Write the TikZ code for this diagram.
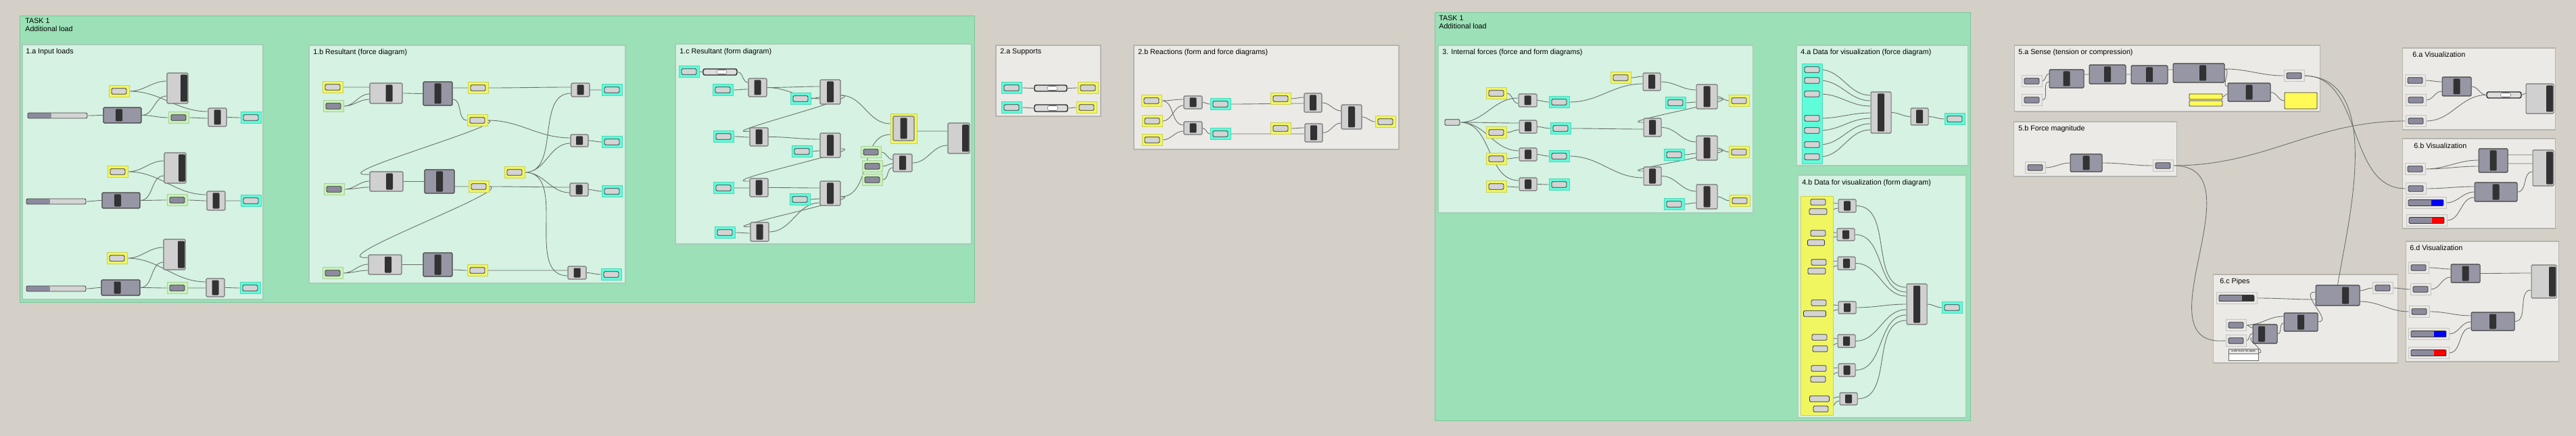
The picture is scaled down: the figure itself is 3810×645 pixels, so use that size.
\documentclass[tikz,border=0pt]{standalone}
\usepackage{fontspec}
\setmainfont{Liberation Sans}
\usepackage{xcolor}
\usepackage{tikz}
\usetikzlibrary{positioning}
\usetikzlibrary{fit}
\definecolor{canvas}{RGB}{212,208,200}
\definecolor{grnB}{RGB}{155,224,182}
\definecolor{grnBD}{RGB}{125,196,155}
\definecolor{grnS}{RGB}{213,242,226}
\definecolor{grnSD}{RGB}{168,204,184}
\definecolor{gryS}{RGB}{236,234,230}
\definecolor{gryD}{RGB}{182,180,174}
\definecolor{gryP}{RGB}{232,231,228}
\definecolor{yelG}{RGB}{240,246,96}
\definecolor{cyaG}{RGB}{95,252,218}
\definecolor{lgrG}{RGB}{200,242,184}
\definecolor{parL}{RGB}{212,212,212}
\definecolor{parD}{RGB}{140,139,158}
\definecolor{cmpL}{RGB}{208,208,208}
\definecolor{cmpD}{RGB}{151,150,165}
\definecolor{barC}{RGB}{50,50,50}
\definecolor{wireC}{RGB}{105,110,105}
\definecolor{ypnl}{RGB}{255,250,85}
\pgfdeclarelayer{grp}
\pgfdeclarelayer{wires}
\pgfsetlayers{grp,wires,main}
\tikzset{
    bar shift/.store in=\ghbs, bar shift=0cm,
    grpbig/.style = {draw=grnBD, fill=grnB, line width=0.5pt},
    grpsub/.style = {draw=grnSD, fill=grnS, line width=0.6pt},
    grpgry/.style = {draw=gryD, fill=gryS, line width=0.6pt},
    ttl/.style = {anchor=north west, inner sep=0pt, align=left, font=\fontsize{6.1}{6.9}\selectfont},
    pbox/.style 2 args = {rectangle, fill=#1, draw=#1!85!black, line width=0.4pt, inner sep=0pt,
        minimum width=0.6cm, minimum height=0.34cm,
        path picture={\draw[black!80, line width=0.5pt, rounded corners=0.8pt, fill=#2]
            ([shift={(-0.22cm,-0.085cm)}]path picture bounding box.center) rectangle
            ([shift={(0.22cm,0.085cm)}]path picture bounding box.center);}},
    ypar/.style = {pbox={yelG}{parL}},
    cpar/.style = {pbox={cyaG}{parL}},
    gpar/.style = {pbox={lgrG}{parD}},
    wpar/.style = {pbox={gryP}{parD}},
    par/.style = {rectangle, rounded corners=0.8pt, fill=parL, draw=black!80, line width=0.5pt,
        inner sep=0pt, minimum width=0.44cm, minimum height=0.17cm},
    comp/.style = {rectangle, rounded corners=0.8pt, fill=cmpL, draw=black!55, line width=0.6pt, inner sep=0pt,
        path picture={\fill[barC, rounded corners=0.6pt]
            ([shift={(\ghbs-0.1cm,-0.05cm)}]path picture bounding box.north) rectangle
            ([shift={(\ghbs+0.1cm,0.05cm)}]path picture bounding box.south);}},
    dcomp/.style = {comp, fill=cmpD, draw=black!75},
    outc/.style = {rectangle, rounded corners=0.8pt, fill=cmpL, draw=black!55, line width=0.6pt, inner sep=0pt,
        path picture={\fill[barC, rounded corners=0.6pt]
            ([shift={(-0.22cm,-0.05cm)}]path picture bounding box.north east) rectangle
            ([shift={(-0.02cm,0.05cm)}]path picture bounding box.south east);}},
    slider/.style = {rectangle, rounded corners=1.2pt, fill=parL, draw=black!75, line width=0.5pt, inner sep=0pt,
        path picture={\fill[parD] (path picture bounding box.south west) rectangle
            ([xshift=0.7cm]path picture bounding box.north west);}},
    valbar/.style = {rectangle, rounded corners=1.5pt, fill=parL!80, draw=black!85, line width=0.8pt, inner sep=0pt,
        path picture={\draw[fill=white, draw=black!60, line width=0.3pt]
            ([shift={(-0.1cm,-0.03cm)}]path picture bounding box.north) rectangle
            ([shift={(0.2cm,0.03cm)}]path picture bounding box.south);}},
    swatch/.style = {rectangle, fill=gryP, draw=gryP!85!black, line width=0.4pt, inner sep=0pt,
        minimum width=1.2cm, minimum height=0.34cm,
        path picture={\fill[parD] ([shift={(-0.52cm,-0.09cm)}]path picture bounding box.center) rectangle
            ([shift={(0.52cm,0.09cm)}]path picture bounding box.center);
            \fill[#1] ([shift={(0.16cm,-0.09cm)}]path picture bounding box.center) rectangle
            ([shift={(0.52cm,0.09cm)}]path picture bounding box.center);
            \draw[black!80, line width=0.5pt, rounded corners=0.8pt]
            ([shift={(-0.52cm,-0.09cm)}]path picture bounding box.center) rectangle
            ([shift={(0.52cm,0.09cm)}]path picture bounding box.center);}},
    ybar/.style = {rectangle, rounded corners=0.6pt, fill=ypnl, draw=black!80, line width=0.5pt, inner sep=0pt},
    pnl/.style = {rectangle, fill=white, draw=black!60, line width=0.4pt, inner sep=0pt,
        path picture={\fill[gryP] (path picture bounding box.north west) rectangle
            ([yshift=-0.14cm]path picture bounding box.north east);
            \draw[black!60, line width=0.3pt] ([yshift=-0.14cm]path picture bounding box.north west) --
            ([yshift=-0.14cm]path picture bounding box.north east);}},
    wire/.style = {draw=wireC, line width=0.5pt},
}
\begin{document}
\begin{tikzpicture}[x=0.02cm, y=-0.02cm]
\useasboundingbox (0,0) rectangle (3810,645);
\begin{pgfonlayer}{grp}
\fill[canvas] (0,0) rectangle (3810,645);
\draw[grpbig] (29,23) rectangle (1441,447);
\draw[grpsub] (33,66) rectangle (389,443);
\draw[grpsub] (457,67) rectangle (925,419);
\draw[grpsub] (999,65) rectangle (1437,361);
\draw[grpgry] (1473,67) rectangle (1628,172);
\draw[grpgry] (1677,67) rectangle (2069,221);
\draw[grpbig] (2122,18) rectangle (2914,622);
\draw[grpsub] (2127,67) rectangle (2592,315);
\draw[grpsub] (2657,67) rectangle (2910,245);
\draw[grpsub] (2659,259) rectangle (2907,618);
\draw[grpgry] (2979,67) rectangle (3431,165);
\draw[grpgry] (2978,180) rectangle (3219,261);
\draw[grpgry] (3553,71) rectangle (3779,192);
\draw[grpgry] (3553,205) rectangle (3779,338);
\draw[grpgry] (3273,406) rectangle (3546,537);
\draw[grpgry] (3558,357) rectangle (3784,535);
\end{pgfonlayer}
%
\node[ttl] at (37,27) (t1) {TASK 1\\Additional load};
\node[ttl] at (38,71) (t1a) {1.a Input loads};
\node[ttl] at (463,72) (t1b) {1.b Resultant (force diagram)};
\node[ttl] at (1005,71) (t1c) {1.c Resultant (form diagram)};
\node[ttl] at (1479,72) (t2a) {2.a Supports};
\node[ttl] at (1683,72) (t2b) {2.b Reactions (form and force diagrams)};
\node[ttl] at (2128,23) (t2) {TASK 1\\Additional load};
\node[ttl] at (2133,72) (t3) {3. Internal forces (force and form diagrams)};
\node[ttl] at (2663,72) (t4a) {4.a Data for visualization (force diagram)};
\node[ttl] at (2665,265) (t4b) {4.b Data for visualization (form diagram)};
\node[ttl] at (2985,72) (t5a) {5.a Sense (tension or compression)};
\node[ttl] at (2985,185) (t5b) {5.b Force magnitude};
\node[ttl] at (3568,76) (t6a) {6.a Visualization};
\node[ttl] at (3570,211) (t6b) {6.b Visualization};
\node[ttl] at (3283,411) (t6c) {6.c Pipes};
\node[ttl] at (3564,362) (t6d) {6.d Visualization};
%
\node[slider, fit={(41,167)(129,175)}] (sl1) {};
\node[dcomp, bar shift=-0.1cm, fit={(153,159)(209,182)}] (ca1) {};
\node[ypar] at (176,135) (ya1) {};
\node[outc, fit={(247,108)(278,153)}] (ba1) {};
\node[gpar] at (264,174) (ga1) {};
\node[comp, fit={(308,160)(335,187)}] (sa1) {};
\node[cpar] at (371,174) (ka1) {};
\node[slider, fit={(39,294)(127,302)}] (sl2) {};
\node[dcomp, bar shift=-0.1cm, fit={(151,285)(207,308)}] (ca2) {};
\node[ypar] at (174,254) (ya2) {};
\node[outc, fit={(243,226)(275,271)}] (ba2) {};
\node[gpar] at (262,296) (ga2) {};
\node[comp, fit={(306,283)(333,311)}] (sa2) {};
\node[cpar] at (371,297) (ka2) {};
\node[slider, fit={(39,423)(127,431)}] (sl3) {};
\node[dcomp, bar shift=-0.1cm, fit={(150,414)(207,437)}] (ca3) {};
\node[ypar] at (173,382) (ya3) {};
\node[outc, fit={(242,354)(274,399)}] (ba3) {};
\node[gpar] at (262,426) (ga3) {};
\node[comp, fit={(305,412)(332,439)}] (sa3) {};
\node[cpar] at (370,426) (ka3) {};
%
\node[ypar] at (492,129) (yb1) {};
\node[gpar] at (493,157) (gb1) {};
\node[comp, bar shift=0.09cm, fit={(547,123)(595,153)}] (cb1) {};
\node[dcomp, fit={(626,121)(669,156)}] (db1) {};
\node[ypar] at (707,130) (yb2) {};
\node[ypar] at (706,178) (yb3) {};
\node[comp, fit={(845,123)(872,143)}] (sb1) {};
\node[cpar] at (905,133) (kb1) {};
\node[comp, fit={(844,199)(870,217)}] (sb2) {};
\node[cpar] at (905,210) (kb2) {};
\node[ypar] at (761,255) (yb4) {};
\node[gpar] at (494,280) (gb2) {};
\node[comp, bar shift=0.09cm, fit={(547,254)(596,283)}] (cb2) {};
\node[dcomp, fit={(628,251)(672,286)}] (db2) {};
\node[ypar] at (708,276) (yb5) {};
\node[comp, fit={(843,271)(870,290)}] (sb3) {};
\node[cpar] at (905,283) (kb3) {};
\node[gpar] at (492,404) (gb3) {};
\node[comp, bar shift=0.09cm, fit={(545,377)(594,406)}] (cb3) {};
\node[dcomp, fit={(626,374)(669,409)}] (db3) {};
\node[ypar] at (706,400) (yb6) {};
\node[comp, fit={(840,394)(867,413)}] (sb4) {};
\node[cpar] at (904,406) (kb4) {};
%
\node[cpar] at (1019,106) (pc1) {};
\node[valbar, fit={(1040,102)(1090,111)}] (vc1) {};
\node[cpar] at (1069,133) (pc2) {};
\node[comp, fit={(1107,116)(1134,143)}] (ac1) {};
\node[cpar] at (1184,146) (pc3) {};
\node[comp, fit={(1213,118)(1243,154)}] (bc1) {};
\node[cpar] at (1070,202) (pc4) {};
\node[comp, fit={(1109,189)(1136,216)}] (ac2) {};
\node[cpar] at (1186,224) (pc5) {};
\node[comp, fit={(1213,197)(1243,233)}] (bc2) {};
\node[cpar] at (1070,278) (pc6) {};
\node[comp, fit={(1109,264)(1136,291)}] (ac3) {};
\node[cpar] at (1183,295) (pc7) {};
\node[comp, fit={(1213,268)(1243,304)}] (bc3) {};
\node[cpar] at (1072,344) (pc8) {};
\node[comp, fit={(1110,329)(1137,357)}] (ac4) {};
\node[fill=yelG, draw=yelG!85!black, inner sep=0pt, fit={(1317,168)(1356,212)}] (yc) {};
\node[comp, fit={(1321,172)(1352,208)}] (ec1) {};
\node[gpar] at (1288,225) (qc1) {};
\node[gpar] at (1290,246) (qc2) {};
\node[gpar] at (1290,266) (qc3) {};
\node[comp, fit={(1321,228)(1349,254)}] (ec2) {};
\node[outc, fit={(1402,182)(1434,227)}] (fc) {};
%
\node[cpar] at (1496,130) (ra1) {};
\node[valbar, fit={(1530,126)(1578,135)}] (va1) {};
\node[ypar] at (1609,130) (ra2) {};
\node[cpar] at (1496,159) (ra3) {};
\node[valbar, fit={(1530,155)(1579,165)}] (va2) {};
\node[ypar] at (1607,159) (ra4) {};
%
\node[ypar] at (1703,149) (tb1) {};
\node[ypar] at (1704,179) (tb2) {};
\node[ypar] at (1704,207) (tb3) {};
\node[comp, fit={(1751,142)(1778,161)}] (ub1) {};
\node[comp, fit={(1751,180)(1778,199)}] (ub2) {};
\node[cpar] at (1805,154) (wb1) {};
\node[cpar] at (1805,198) (wb2) {};
\node[ypar] at (1894,146) (tb4) {};
\node[ypar] at (1894,190) (tb5) {};
\node[comp, fit={(1929,138)(1955,166)}] (ub3) {};
\node[comp, fit={(1930,183)(1956,210)}] (ub4) {};
\node[comp, fit={(1984,155)(2014,191)}] (ub5) {};
\node[ypar] at (2049,180) (tb6) {};
%
\node[par] at (2148,181) (p30) {};
\node[ypar] at (2213,138) (y3a) {};
\node[ypar] at (2213,196) (y3b) {};
\node[ypar] at (2213,235) (y3c) {};
\node[ypar] at (2213,276) (y3d) {};
\node[comp, fit={(2246,139)(2273,158)}] (m3a) {};
\node[comp, fit={(2247,178)(2273,197)}] (m3b) {};
\node[comp, fit={(2247,219)(2273,238)}] (m3c) {};
\node[comp, fit={(2247,263)(2273,282)}] (m3d) {};
\node[cpar] at (2306,151) (k3a) {};
\node[cpar] at (2308,190) (k3b) {};
\node[cpar] at (2306,231) (k3c) {};
\node[cpar] at (2306,273) (k3d) {};
\node[ypar] at (2397,115) (y3e) {};
\node[comp, fit={(2430,108)(2456,134)}] (n3a) {};
\node[comp, fit={(2431,175)(2457,202)}] (n3b) {};
\node[comp, fit={(2431,247)(2457,274)}] (n3c) {};
\node[cpar] at (2478,152) (l3a) {};
\node[cpar] at (2476,229) (l3b) {};
\node[cpar] at (2476,302) (l3c) {};
\node[comp, fit={(2509,125)(2540,161)}] (o3a) {};
\node[comp, fit={(2509,201)(2540,237)}] (o3b) {};
\node[comp, fit={(2509,273)(2540,309)}] (o3c) {};
\node[ypar] at (2572,149) (z3a) {};
\node[ypar] at (2572,225) (z3b) {};
\node[ypar] at (2573,297) (z3c) {};
%
\node[fill=cyaG, draw=cyaG!85!black, inner sep=0pt, fit={(2665,94)(2695,242)}] (cb4) {};
\node[par] at (2680,103) (a41) {};
\node[par] at (2680,119) (a42) {};
\node[par] at (2680,139) (a43) {};
\node[par] at (2680,175) (a44) {};
\node[par] at (2680,193) (a45) {};
\node[par] at (2680,214) (a46) {};
\node[par] at (2680,232) (a47) {};
\node[comp, fit={(2767,136)(2797,197)}] (h4) {};
\node[comp, fit={(2826,160)(2852,185)}] (i4) {};
\node[cpar] at (2891,176) (j4) {};
%
\node[fill=yelG, draw=yelG!85!black, inner sep=0pt, fit={(2663,290)(2711,614)}] (yb40) {};
\node[par] at (2689,299) (q1a) {};
\node[par, minimum width=0.52cm] at (2689,313) (q1b) {};
\node[par] at (2689,345) (q2a) {};
\node[par, minimum width=0.5cm] at (2686,359) (q2b) {};
\node[par] at (2690,388) (q3a) {};
\node[par, minimum width=0.52cm] at (2687,401) (q3b) {};
\node[par] at (2690,448) (q4a) {};
\node[par, minimum width=0.66cm] at (2684,464) (q4b) {};
\node[par] at (2691,499) (q5a) {};
\node[par] at (2692,516) (q5b) {};
\node[par] at (2690,545) (q6a) {};
\node[par] at (2689,561) (q6b) {};
\node[par, minimum width=0.58cm] at (2691,590) (q7a) {};
\node[par] at (2693,605) (q7b) {};
\node[comp, fit={(2719,295)(2745,314)}] (c41) {};
\node[comp, fit={(2717,338)(2743,356)}] (c42) {};
\node[comp, fit={(2718,380)(2744,399)}] (c43) {};
\node[comp, fit={(2719,446)(2745,464)}] (c44) {};
\node[comp, fit={(2718,495)(2744,514)}] (c45) {};
\node[comp, fit={(2719,538)(2744,557)}] (c46) {};
\node[comp, fit={(2721,581)(2747,599)}] (c47) {};
\node[comp, fit={(2820,420)(2850,480)}] (g4) {};
\node[cpar] at (2887,455) (q4) {};
%
\node[wpar] at (3005,120) (w5a) {};
\node[wpar] at (3005,148) (w5b) {};
\node[dcomp, fit={(3031,103)(3082,130)}] (d5a) {};
\node[dcomp, fit={(3090,96)(3144,124)}] (d5b) {};
\node[dcomp, fit={(3152,97)(3206,124)}] (d5c) {};
\node[dcomp, bar shift=0.12cm, fit={(3214,94)(3290,122)}] (d5d) {};
\node[dcomp, fit={(3295,123)(3358,150)}] (d5e) {};
\node[ybar, fit={(3238,139)(3287,147)}] (yb5a) {};
\node[ybar, fit={(3238,149)(3287,157)}] (yb5b) {};
\node[ybar, fit={(3379,137)(3427,161)}] (yp5) {};
\node[wpar] at (3393,112) (w5c) {};
\node[wpar] at (3010,248) (w5d) {};
\node[dcomp, fit={(3062,228)(3109,254)}] (d5f) {};
\node[wpar] at (3199,245) (w5e) {};
%
\node[wpar] at (3572,119) (w6a) {};
\node[wpar] at (3573,148) (w6b) {};
\node[wpar] at (3573,179) (w6c) {};
\node[dcomp, fit={(3612,114)(3655,142)}] (d6a) {};
\node[valbar, fit={(3678,136)(3729,145)}] (v6a) {};
\node[outc, fit={(3736,124)(3777,168)}] (o6a) {};
\node[wpar] at (3572,250) (w6d) {};
\node[wpar] at (3573,279) (w6e) {};
\node[swatch=blue] at (3588,300) (s6a) {};
\node[swatch=red] at (3589,326) (s6b) {};
\node[dcomp, fit={(3666,220)(3709,255)}] (d6b) {};
\node[dcomp, fit={(3660,270)(3723,298)}] (d6c) {};
\node[outc, fit={(3746,222)(3777,275)}] (o6b) {};
%
\node[swatch=barC] at (3308,441) (s6c) {};
\node[wpar] at (3307,481) (w6f) {};
\node[wpar] at (3307,504) (w6g) {};
\node[pnl, fit={(3296,516)(3340,533)}] (pn6) {};
\node[inner sep=0pt, font=\fontsize{2.2}{2.6}\selectfont] at (3318,519.5) (pn6t) {scale factor for pipes};
\node[dcomp, bar shift=-0.1cm, fit={(3332,480)(3368,508)}] (d6d) {};
\node[dcomp, fit={(3378,463)(3428,490)}] (d6e) {};
\node[dcomp, bar shift=0.23cm, fit={(3425,422)(3490,452)}] (d6f) {};
\node[wpar] at (3524,426) (w6h) {};
\node[wpar] at (3577,396) (w6k) {};
\node[wpar] at (3580,428) (w6j) {};
\node[wpar] at (3578,461) (w6i) {};
\node[swatch=blue] at (3592,494) (s6d) {};
\node[swatch=red] at (3592,522) (s6e) {};
\node[dcomp, fit={(3625,391)(3668,418)}] (d6g) {};
\node[dcomp, fit={(3655,462)(3719,489)}] (d6h) {};
\node[outc, fit={(3744,392)(3781,441)}] (o6d) {};
%
\begin{pgfonlayer}{wires}
\begin{scope}[wire, every to/.style={out=0,in=180}]
\draw (sl1.east) to (ca1.west) (ca1.east) to (ba1.west|-0,142) (ca1.east) to (ga1.west)
      (ya1.east) to (ba1.west|-0,120) (ya1.east) to (sa1.west|-0,165) (ga1.east) to (sa1.west|-0,175)
      (sa1.east) to (ka1.west);
\draw (sl2.east) to (ca2.west) (ca2.east) to (ba2.west|-0,260) (ca2.east) to (ga2.west)
      (ya2.east) to (ba2.west|-0,238) (ya2.east) to (sa2.west|-0,288) (ga2.east) to (sa2.west|-0,297)
      (sa2.east) to (ka2.west);
\draw (sl3.east) to (ca3.west) (ca3.east) to (ba3.west|-0,388) (ca3.east) to (ga3.west)
      (ya3.east) to (ba3.west|-0,366) (ya3.east) to (sa3.west|-0,417) (ga3.east) to (sa3.west|-0,426)
      (sa3.east) to (ka3.west);
%
\draw (yb1.east) to (cb1.west|-0,129) (gb1.east) to (cb1.west|-0,139) (gb1.east) to (cb1.west|-0,147)
      (cb1.east) to (db1.west) (db1.east|-0,130) to (yb2.west) (db1.east|-0,147) to (yb3.west)
      (yb2.east) to (sb1.west|-0,129) (yb3.east) to (sb2.west|-0,204);
\draw (yb4.east) to (sb1.west|-0,138) (yb4.east) to (sb2.west|-0,212)
      (yb4.east) to (sb3.west|-0,285) (yb4.east) to (sb4.west|-0,408);
\draw (yb3.east) .. controls (760,182) and (470,262) .. (cb2.west|-0,258);
\draw (yb5.east) .. controls (763,280) and (470,386) .. (cb3.west|-0,381);
\draw (gb2.east) to (cb2.west|-0,268) (gb2.east) to (cb2.west|-0,277)
      (cb2.east) to (db2.west) (db2.east|-0,276) to (yb5.west) (yb5.east) to (sb3.west|-0,277);
\draw (gb3.east) to (cb3.west|-0,391) (gb3.east) to (cb3.west|-0,400)
      (cb3.east) to (db3.west) (db3.east|-0,399) to (yb6.west) (yb6.east) to (sb4.west|-0,400);
\draw (sb1.east) to (kb1.west) (sb2.east) to (kb2.west) (sb3.east) to (kb3.west) (sb4.east) to (kb4.west);
%
\draw (pc1.east) to (vc1.west) (vc1.east) to (ac1.west|-0,122) (pc2.east) to (ac1.west|-0,132)
      (ac1.east) to (bc1.west|-0,128) (ac1.east) to (bc1.west|-0,146) (pc3.east) to (bc1.west|-0,144);
\draw (bc1.east|-0,141) .. controls (1290,141) and (1050,200) .. (ac2.west|-0,194);
\draw (bc1.east|-0,141) to (yc.west|-0,183);
\draw (pc4.east) to (ac2.west|-0,203) (ac2.east) to (bc2.west|-0,206) (pc5.east) to (bc2.west|-0,223);
\draw (bc2.east|-0,220) .. controls (1290,220) and (1050,270) .. (ac3.west|-0,268);
\draw (pc6.east) to (ac3.west|-0,278) (ac3.east) to (bc3.west|-0,278) (pc7.east) to (bc3.west|-0,294);
\draw (bc3.east|-0,291) .. controls (1290,291) and (1050,340) .. (ac4.west|-0,335);
\draw (pc8.east) to (ac4.west|-0,345) (ac4.east) to (bc3.west|-0,300);
\draw (bc3.east|-0,291) to (yc.west|-0,199);
\draw (yc.east|-0,194) to (fc.west|-0,194) (qc1.east) to (ec2.west|-0,236) (qc2.east) to (ec2.west|-0,242)
      (qc3.east) to (ec2.west|-0,248) (ec2.east) to (fc.west|-0,215);
%
\draw (ra1.east) to (va1.west) (va1.east) to (ra2.west) (ra3.east) to (va2.west) (va2.east) to (ra4.west);
\draw (tb1.east) to (ub1.west|-0,147) (tb1.east) to (ub2.west|-0,185) (tb2.east) to (ub1.west|-0,156)
      (tb3.east) to (ub2.west|-0,194) (ub1.east) to (wb1.west) (ub2.east) to (wb2.west)
      (wb1.east) to (ub3.west|-0,153) (tb4.east) to (ub3.west|-0,144)
      (wb2.east) to (ub4.west|-0,198) (tb5.east) to (ub4.west|-0,189)
      (ub3.east) to (ub5.west|-0,164) (ub4.east) to (ub5.west|-0,182) (ub5.east) to (tb6.west);
%
\draw (p30.east) to (m3a.west|-0,145) (p30.east) to (m3b.west|-0,182)
      (p30.east) to (m3c.west|-0,223) (p30.east) to (m3d.west|-0,267);
\draw (y3a.east) to (m3a.west|-0,153) (y3b.east) to (m3b.west|-0,192)
      (y3c.east) to (m3c.west|-0,233) (y3d.east) to (m3d.west|-0,277);
\draw (m3a.east) to (k3a.west) (m3b.east) to (k3b.west) (m3c.east) to (k3c.west) (m3d.east) to (k3d.west);
\draw (k3a.east) to (n3a.west|-0,124) (y3e.east) to (n3a.west|-0,113)
      (n3a.east) to (o3a.west|-0,133) (l3a.east) to (o3a.west|-0,151) (o3a.east) to (z3a.west);
\draw (o3a.east|-0,146) .. controls (2590,146) and (2380,182) .. (n3b.west|-0,181);
\draw (k3b.east) to (n3b.west|-0,191) (n3b.east) to (o3b.west|-0,210) (l3b.east) to (o3b.west|-0,227)
      (o3b.east) to (z3b.west);
\draw (o3b.east|-0,222) .. controls (2590,222) and (2380,254) .. (n3c.west|-0,253);
\draw (k3c.east) to (n3c.west|-0,263) (n3c.east) to (o3c.west|-0,283) (l3c.east) to (o3c.west|-0,300)
      (o3c.east) to (z3c.west);
%
\draw (a41.east) to (h4.west|-0,141) (a42.east) to (h4.west|-0,149) (a43.east) to (h4.west|-0,157)
      (a44.east) to (h4.west|-0,167) (a45.east) to (h4.west|-0,175) (a46.east) to (h4.west|-0,183)
      (a47.east) to (h4.west|-0,192) (h4.east) to (i4.west) (i4.east) to (j4.west);
\draw (q1a.east) to (c41.west|-0,301) (q1b.east) to (c41.west|-0,308)
      (q2a.east) to (c42.west|-0,344) (q2b.east) to (c42.west|-0,350)
      (q3a.east) to (c43.west|-0,386) (q3b.east) to (c43.west|-0,393)
      (q4a.east) to (c44.west|-0,452) (q4b.east) to (c44.west|-0,458)
      (q5a.east) to (c45.west|-0,501) (q5b.east) to (c45.west|-0,508)
      (q6a.east) to (c46.west|-0,544) (q6b.east) to (c46.west|-0,551)
      (q7a.east) to (c47.west|-0,587) (q7b.east) to (c47.west|-0,593);
\draw (c41.east) to (g4.west|-0,425) (c42.east) to (g4.west|-0,432) (c43.east) to (g4.west|-0,438)
      (c44.east) to (g4.west|-0,450) (c45.east) to (g4.west|-0,458) (c46.east) to (g4.west|-0,466)
      (c47.east) to (g4.west|-0,474) (g4.east) to (q4.west);
%
\draw (w5a.east) to (d5a.west|-0,109) (w5b.east) to (d5a.west|-0,121)
      (d5a.east|-0,110) to (d5b.west|-0,110) (d5b.east|-0,110) to (d5c.west|-0,110)
      (d5c.east|-0,103) to (d5d.west|-0,103) (d5d.east|-0,102) to (w5c.west)
      (d5d.east|-0,102) to (d5e.west|-0,128) (yb5a.east) to (d5e.west|-0,139) (d5e.east) to (yp5.west);
\draw (w5d.east) to (d5f.west|-0,241) (d5f.east|-0,241) to (w5e.west);
%
\draw (w6a.east) to (d6a.west|-0,121) (w6b.east) to (d6a.west|-0,135) (d6a.east) to (v6a.west)
      (w6c.east) to (v6a.west) (v6a.east) to (o6a.west|-0,138);
\draw (w6d.east) to (d6b.west|-0,237) (w6d.east) to (d6b.west|-0,246)
      (d6b.east|-0,229) to (o6b.west|-0,229) (d6b.east|-0,242) to (o6b.west|-0,242)
      (w6e.east) to (d6c.west|-0,276) (s6a.east) to (d6c.west|-0,284) (s6b.east) to (d6c.west|-0,292)
      (d6c.east) to (o6b.west|-0,254);
%
\draw (w6f.east) to (d6d.west|-0,485) (w6f.east) to (d6e.west|-0,468) (w6g.east) to (d6d.west|-0,493)
      (d6d.east) to (d6e.west|-0,478) (s6c.east) to (d6f.west|-0,443)
      (d6f.east|-0,430) to (w6h.west) (d6f.east|-0,446) to (w6i.west) (w6h.east) to (w6j.west);
\draw (pn6.east|-0,522) .. controls (3356,522) and (3318,500) .. (d6d.west|-0,500);
\draw (d6e.east|-0,476) .. controls (3452,476) and (3398,432) .. (d6f.west|-0,432);
\draw (w6k.east) to (d6g.west|-0,398) (w6j.east) to (d6g.west|-0,410) (d6g.east) to (o6d.west|-0,404)
      (w6i.east) to (d6h.west|-0,467) (s6d.east) to (d6h.west|-0,476) (s6e.east) to (d6h.west|-0,485)
      (d6h.east) to (o6d.west|-0,429);
%
\draw (w5c.east) to (w6e.west) (w5e.east) to (w6c.west);
\draw (w5c.east) .. controls (3530,115) and (3470,340) .. (d6f.north);
\draw (w5e.east) .. controls (3345,245) and (3160,515) .. (w6g.west);
\end{scope}
\end{pgfonlayer}
\end{tikzpicture}
\end{document}
